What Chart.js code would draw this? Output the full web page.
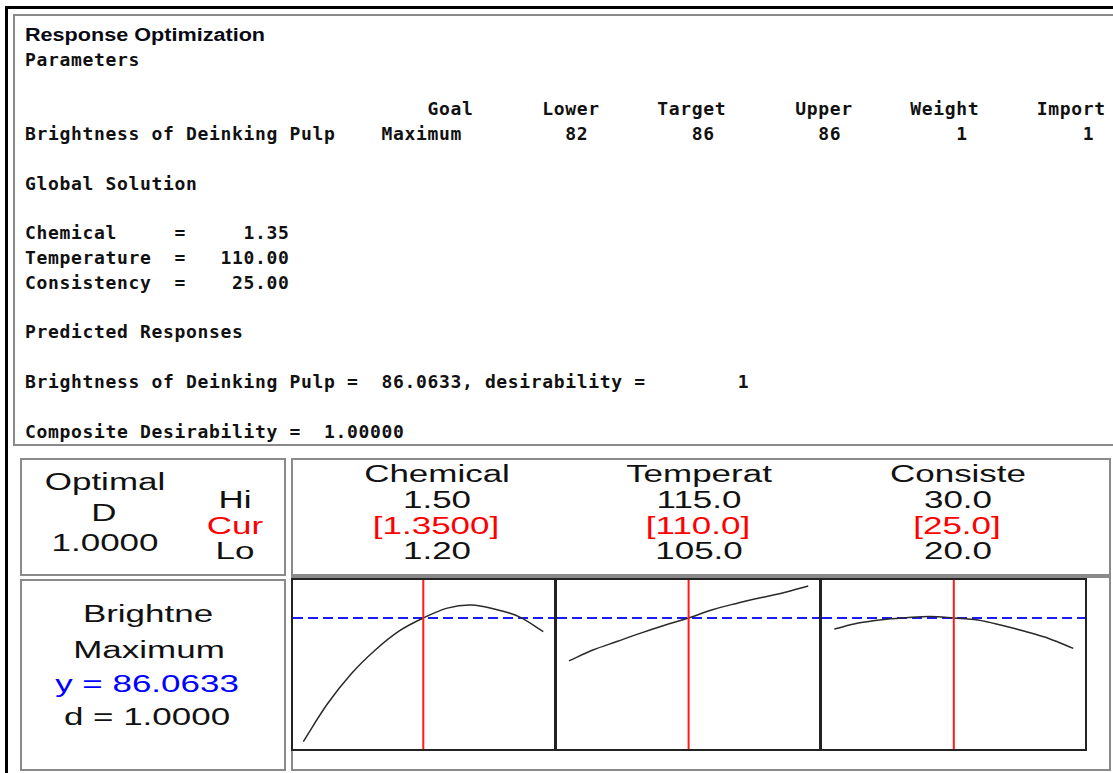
<!DOCTYPE html>
<html><head><meta charset="utf-8">
<script src="https://cdn.jsdelivr.net/npm/chart.js@4.4.1/dist/chart.umd.min.js"></script>
<style>
html,body{margin:0;padding:0;background:#fff;width:1113px;height:773px;overflow:hidden;position:relative}
.abs{position:absolute;box-sizing:border-box}
.frame{left:5px;top:6px;width:1200px;height:900px;border-left:3px solid #000;border-top:3px solid #000}
.gbox{border:2px solid #8a8a8a;background:transparent}
.bbox{border:2px solid #222}
pre{margin:0;position:absolute;left:25px;top:47.6px;font:bold 18px "DejaVu Sans Mono",monospace;letter-spacing:0.66px;line-height:24.8px;color:#111}
.title{position:absolute;left:25px;top:24px;font:bold 18px "Liberation Sans",Arial,sans-serif;line-height:22px;white-space:nowrap;transform:scaleX(1.2);transform-origin:0 0;color:#0a0a14}
.t{position:absolute;font:23px "Liberation Sans",Arial,sans-serif;line-height:1;white-space:nowrap;transform:translate(-50%,-50%) scaleX(1.52);color:#111}
canvas{position:absolute}
</style></head><body>
<div class="abs frame"></div>
<div class="abs gbox" style="left:13px;top:14px;width:1200px;height:432px"></div>
<div class="title">Response Optimization</div>
<pre id="session"></pre>

<div class="abs gbox" style="left:20px;top:458px;width:266px;height:118px"></div>
<div class="abs gbox" style="left:291px;top:458px;width:820px;height:118px"></div>
<div class="abs gbox" style="left:20px;top:579px;width:266px;height:192px"></div>
<div class="abs gbox" style="left:291px;top:576px;width:820px;height:195px"></div>

<div class="abs bbox" style="left:291px;top:578px;width:265px;height:173px"></div>
<div class="abs bbox" style="left:555px;top:578px;width:266px;height:173px"></div>
<div class="abs bbox" style="left:820px;top:578px;width:267px;height:173px"></div>

<canvas id="c0" width="261" height="169" style="left:293px;top:580px"></canvas>
<canvas id="c1" width="262" height="169" style="left:557px;top:580px"></canvas>
<canvas id="c2" width="263" height="169" style="left:822px;top:580px"></canvas>

<div id="labels"></div>

<script>
// ---------- data ----------
const factorNames = ['Chemical', 'Temperat', 'Consiste'];
const hiLabels = ['1.50', '115.0', '30.0'];
const curLabels = ['[1.3500]', '[110.0]', '[25.0]'];
const loLabels = ['1.20', '105.0', '20.0'];
const curSettings = [1.35, 110, 25];
const yPred = 86.0633;

const chemX = [1.20, 1.23, 1.26, 1.29, 1.32, 1.35, 1.38, 1.41, 1.44, 1.47, 1.50];
const chemY = [82.11, 83.31, 84.28, 85.04, 85.65, 86.0633, 86.38, 86.48, 86.34, 86.10, 85.63];
const tempX = [105, 106, 107, 108, 109, 110, 111, 112, 113, 114, 115];
const tempY = [84.69, 85.04, 85.31, 85.58, 85.83, 86.0633, 86.33, 86.53, 86.71, 86.88, 87.09];
const consX = [20, 21, 22, 23, 24, 25, 26, 27, 28, 29, 30];
const consY = [85.71, 85.90, 86.01, 86.07, 86.11, 86.0633, 86.00, 85.83, 85.63, 85.40, 85.09];

// ---------- session text ----------
const sessionLines = [
  [[0, 'Parameters']],
  [],
  [[35, 'Goal'], [45, 'Lower'], [55, 'Target'], [67, 'Upper'], [77, 'Weight'], [88, 'Import']],
  [[0, 'Brightness of Deinking Pulp'], [31, 'Maximum'], [47, '82'], [58, '86'], [69, '86'], [81, '1'], [92, '1']],
  [],
  [[0, 'Global Solution']],
  [],
  [[0, 'Chemical'], [13, '='], [19, '1.35']],
  [[0, 'Temperature'], [13, '='], [17, '110.00']],
  [[0, 'Consistency'], [13, '='], [18, '25.00']],
  [],
  [[0, 'Predicted Responses']],
  [],
  [[0, 'Brightness of Deinking Pulp ='], [31, '86.0633, desirability ='], [62, '1']],
  [],
  [[0, 'Composite Desirability ='], [26, '1.00000']]
];
function buildLine(parts) {
  let s = '';
  parts.forEach(([col, txt]) => { while (s.length < col) s += ' '; s += txt; });
  return s;
}
document.getElementById('session').textContent = sessionLines.map(buildLine).join('\n');

// ---------- panel labels ----------
const labelSpecs = [
  ['Optimal', 105, 482, '#111'], ['D', 104, 513, '#111'], ['1.0000', 105, 543, '#111'],
  ['Hi', 235, 500, '#111'], ['Cur', 235, 526, '#ff0000'], ['Lo', 235, 551, '#111'],
  ['Brightne', 148, 614, '#111'], ['Maximum', 149, 650, '#111'],
  ['y = 86.0633', 147, 684, '#0000ff'], ['d = 1.0000', 147, 717, '#111']
];
const colCenters = [437, 699, 958];
factorNames.forEach((n, i) => {
  labelSpecs.push([n, colCenters[i], 474, '#111']);
  labelSpecs.push([hiLabels[i], colCenters[i], 500, '#111']);
  labelSpecs.push([curLabels[i], colCenters[i] - 1, 526, '#ff0000']);
  labelSpecs.push([loLabels[i], colCenters[i], 551, '#111']);
});
const lab = document.getElementById('labels');
labelSpecs.forEach(([txt, x, y, c]) => {
  const d = document.createElement('div');
  d.className = 't';
  d.textContent = txt;
  d.style.left = x + 'px';
  d.style.top = y + 'px';
  d.style.color = c;
  lab.appendChild(d);
});

// ---------- charts ----------
const yMin = 81.872, yMax = 87.279;
const xRanges = [[1.1871, 1.5134], [104.5, 115.45], [19.485, 30.49]];
const series = [[chemX, chemY], [tempX, tempY], [consX, consY]];

function makeChart(id, xs, ys, cur, xmin, xmax) {
  const curve = xs.map((x, i) => ({ x: x, y: ys[i] }));
  new Chart(document.getElementById(id), {
    type: 'line',
    data: {
      datasets: [
        { data: [{ x: cur, y: yMin }, { x: cur, y: yMax }], borderColor: '#ff1a1a', borderWidth: 2, pointRadius: 0 },
        { data: curve, borderColor: '#2a2a2a', borderWidth: 1.5, pointRadius: 0, tension: 0.35 },
        { data: [{ x: xmin, y: yPred }, { x: xmax, y: yPred }], borderColor: '#1a1aff', borderWidth: 2, borderDash: [10, 5], pointRadius: 0 }
      ]
    },
    options: {
      responsive: false, animation: false, devicePixelRatio: 1, events: [],
      layout: { padding: 0 },
      plugins: { legend: { display: false }, tooltip: { enabled: false } },
      scales: {
        x: { type: 'linear', min: xmin, max: xmax, display: false },
        y: { type: 'linear', min: yMin, max: yMax, display: false }
      }
    }
  });
}
series.forEach(([xs, ys], i) => makeChart('c' + i, xs, ys, curSettings[i], xRanges[i][0], xRanges[i][1]));
</script>
</body></html>
